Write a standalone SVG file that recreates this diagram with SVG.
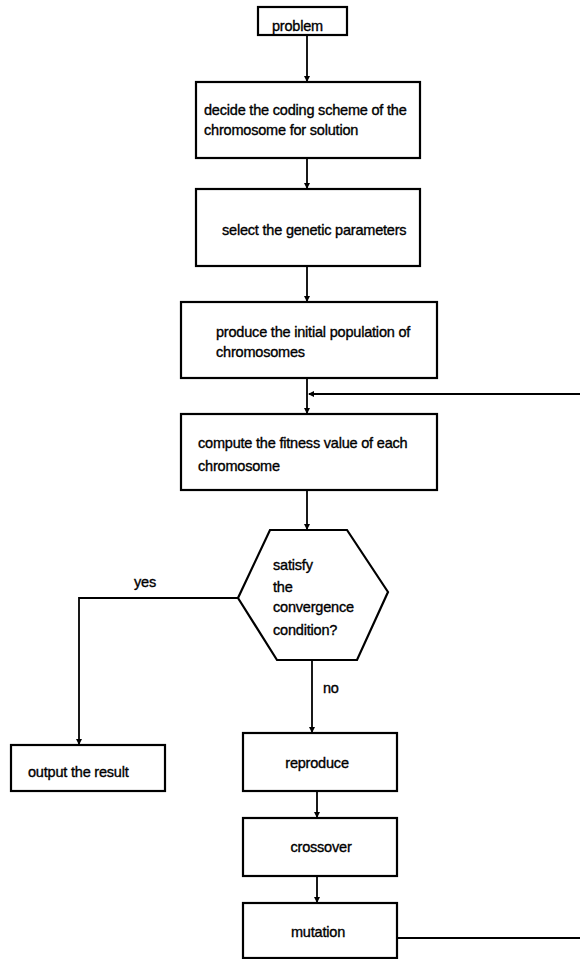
<svg xmlns="http://www.w3.org/2000/svg" width="581" height="959" viewBox="0 0 581 959">
<style>
.box{fill:#fff;stroke:#000;stroke-width:2.2}
.t{font-family:"Liberation Sans",Arial,sans-serif;font-size:14.5px;letter-spacing:-0.2px;fill:#000;stroke:#000;stroke-width:0.35}
.c{stroke:#000;stroke-width:1.8;fill:none}
</style>
<defs>
<marker id="ah" markerWidth="6" markerHeight="6" refX="5" refY="3" orient="auto" markerUnits="userSpaceOnUse">
<path d="M0,0 L6,3 L0,6 z" fill="#000"/>
</marker>
</defs>
<g id="connectors">
<path class="c" d="M307,35 V81" marker-end="url(#ah)"/>
<path class="c" d="M307,158 V188" marker-end="url(#ah)"/>
<path class="c" d="M307,266 V301" marker-end="url(#ah)"/>
<path class="c" d="M307,378 V413" marker-end="url(#ah)"/>
<path class="c" d="M580,394 H309" marker-end="url(#ah)"/>
<path class="c" d="M307,490 V529" marker-end="url(#ah)"/>
<path class="c" d="M238,598 H79 V744" marker-end="url(#ah)"/>
<path class="c" d="M312,660 V732" marker-end="url(#ah)"/>
<path class="c" d="M317,791 V817" marker-end="url(#ah)"/>
<path class="c" d="M317,876 V902" marker-end="url(#ah)"/>
<path class="c" d="M397,938 H580"/>
<text class="t" x="134" y="587">yes</text>
<text class="t" x="323" y="693">no</text>
</g>
<g id="problem">
<rect class="box" x="258" y="7" width="89" height="28"/>
<text class="t" x="272" y="31">problem</text>
</g>
<g id="coding">
<rect class="box" x="196" y="82" width="224" height="76"/>
<text class="t" x="204" y="115">decide the coding scheme of the</text>
<text class="t" x="204" y="135">chromosome for solution</text>
</g>
<g id="params">
<rect class="box" x="196" y="189" width="224" height="77"/>
<text class="t" x="222" y="235">select the genetic parameters</text>
</g>
<g id="initial">
<rect class="box" x="181" y="302" width="256" height="76"/>
<text class="t" x="216" y="337">produce the initial population of</text>
<text class="t" x="216" y="357">chromosomes</text>
</g>
<g id="fitness">
<rect class="box" x="181" y="414" width="256" height="76"/>
<text class="t" x="198" y="448">compute the fitness value of each</text>
<text class="t" x="198" y="471">chromosome</text>
</g>
<g id="decision">
<polygon class="box" points="270,530 347,530 388,592 357,660 277,660 238,598"/>
<text class="t" x="273" y="570">satisfy</text>
<text class="t" x="273" y="592">the</text>
<text class="t" x="273" y="612">convergence</text>
<text class="t" x="273" y="635">condition?</text>
</g>
<g id="output">
<rect class="box" x="11" y="745" width="154" height="46"/>
<text class="t" x="28" y="777">output the result</text>
</g>
<g id="reproduce">
<rect class="box" x="243" y="733" width="154" height="58"/>
<text class="t" x="317" y="768" text-anchor="middle">reproduce</text>
</g>
<g id="crossover">
<rect class="box" x="243" y="818" width="154" height="58"/>
<text class="t" x="321" y="852" text-anchor="middle">crossover</text>
</g>
<g id="mutation">
<rect class="box" x="243" y="903" width="154" height="55"/>
<text class="t" x="318" y="937" text-anchor="middle">mutation</text>
</g>
</svg>
